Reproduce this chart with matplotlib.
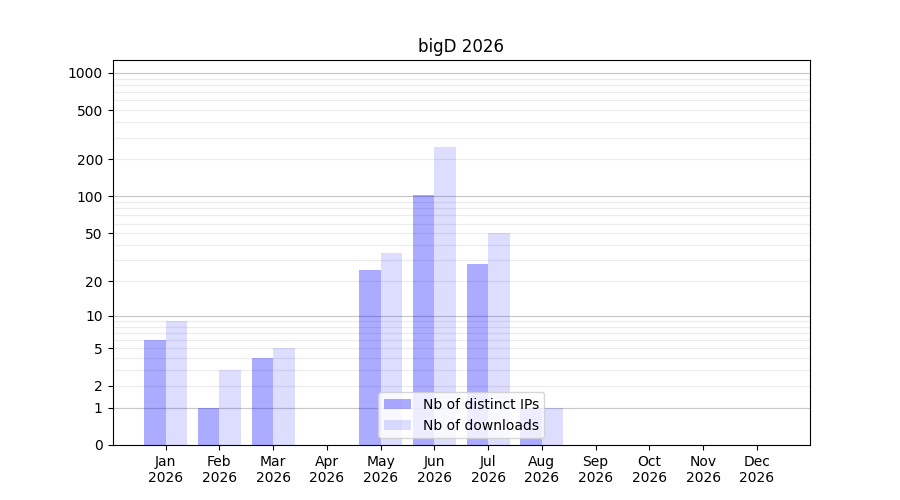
import matplotlib
matplotlib.use('Agg')
import matplotlib.pyplot as plt
import numpy as np

months = ['Jan', 'Feb', 'Mar', 'Apr', 'May', 'Jun', 'Jul', 'Aug', 'Sep', 'Oct', 'Nov', 'Dec']
year = '2026'
ips = [6, 1, 4, 0, 25, 103, 28, 1, 0, 0, 0, 0]
downloads = [9, 3, 5, 0, 34, 253, 50, 1, 0, 0, 0, 0]

label_ticks = [0, 1, 2, 5, 10, 20, 50, 100, 200, 500, 1000]
decades = [1, 10, 100, 1000]


def fwd(v):
    return np.log10(np.asarray(v, dtype=float) + 1)


def inv(v):
    return 10 ** np.asarray(v, dtype=float) - 1


fig, ax = plt.subplots(figsize=(9, 5), dpi=100)
x = np.arange(len(months))
w = 0.4

ax.bar(x - w / 2, ips, w, color='blue', alpha=0.33, label='Nb of distinct IPs')
ax.bar(x + w / 2, downloads, w, color='blue', alpha=0.135, label='Nb of downloads')

ax.set_yscale('function', functions=(fwd, inv))
ax.set_ylim(0, 1270)
ax.set_yticks(label_ticks)
ax.set_yticklabels([str(t) for t in label_ticks])
minor = [m * d for d in [1, 10, 100] for m in range(2, 10)]
ax.set_yticks(minor, minor=True)
ax.tick_params(axis='y', which='minor', length=0)
ax.set_axisbelow(True)
ax.grid(True, axis='y', which='both', color='#ececec', linewidth=0.8)
for d in decades:
    ax.axhline(d, color='#c8c8c8', linewidth=0.8, zorder=0.6)

ax.set_xticks(x)
ax.set_xticklabels([m + '\n' + year for m in months])
ax.set_title('bigD ' + year)
ax.legend(loc='lower center')

fig.savefig('out.png')
